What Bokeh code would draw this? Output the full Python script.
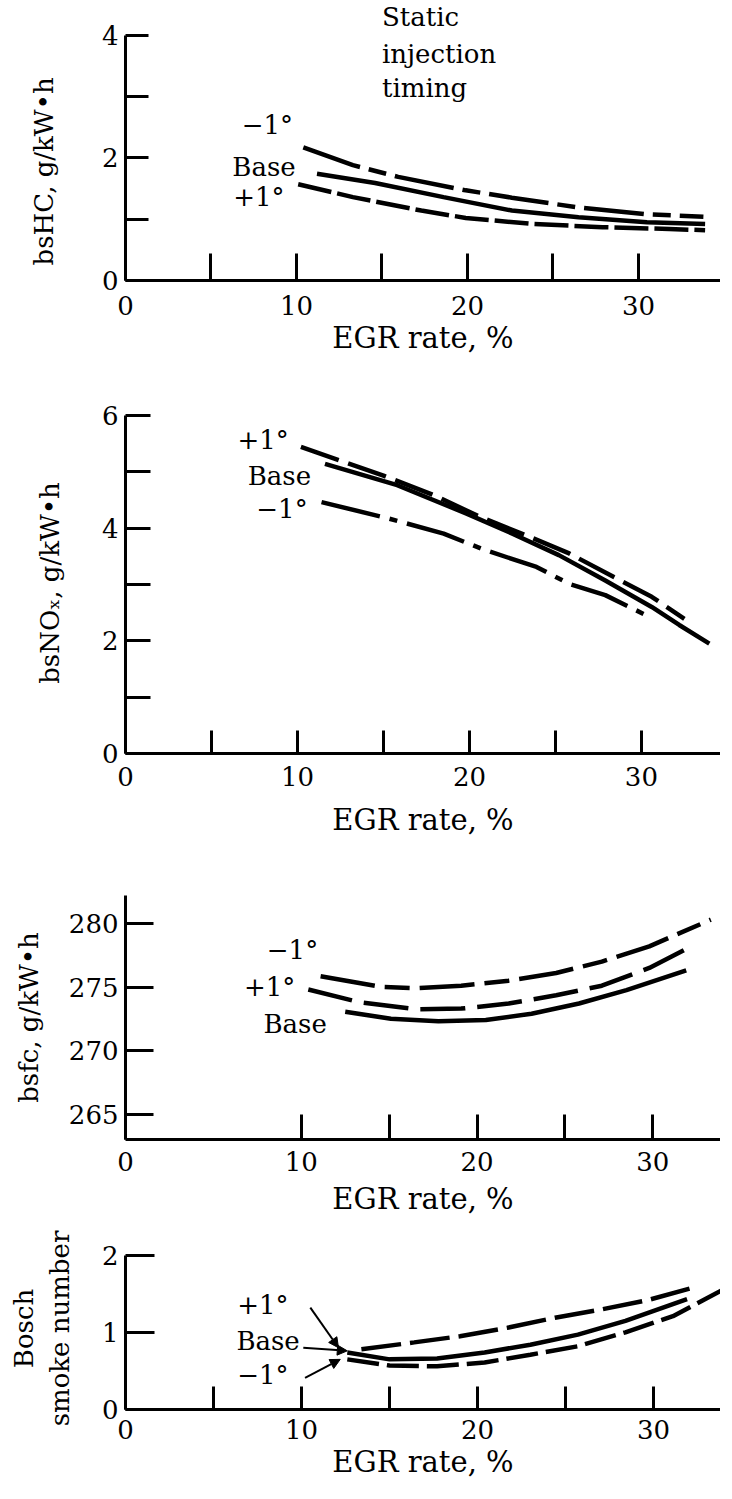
from bokeh.plotting import figure
from bokeh.layouts import column
from bokeh.models import FixedTicker, Label, Arrow, NormalHead, Range1d
from bokeh.core.properties import value
from bokeh.embed import file_html
from bokeh.resources import INLINE

# ---------------- data ----------------
# Panel 1: bsHC, g/kW.h
hc_x_m1 = [10.4, 13.3, 15.95, 19.9, 22.6, 26.5, 30.5, 33.8]
hc_y_m1 = [2.17, 1.88, 1.69, 1.47, 1.35, 1.19, 1.08, 1.04]
hc_x_base = [11.2, 14.6, 18.6, 22.6, 26.5, 30.5, 33.9]
hc_y_base = [1.74, 1.59, 1.36, 1.14, 1.03, 0.95, 0.92]
hc_x_p1 = [10.1, 13.3, 17.3, 19.9, 23.9, 27.9, 31.8, 33.9]
hc_y_p1 = [1.57, 1.36, 1.14, 1.02, 0.92, 0.87, 0.84, 0.82]

# Panel 2: bsNOx, g/kW.h
nox_x_p1 = [10.2, 15.0, 17.96, 20.6, 23.3, 25.8, 28.4, 30.6, 32.5]
nox_y_p1 = [5.44, 4.93, 4.58, 4.20, 3.87, 3.55, 3.13, 2.78, 2.39]
nox_x_base = [11.6, 15.8, 19.8, 22.5, 25.2, 27.9, 30.6, 32.2, 33.95]
nox_y_base = [5.14, 4.76, 4.26, 3.90, 3.52, 3.07, 2.60, 2.28, 1.95]
nox_x_m1 = [11.4, 15.3, 18.5, 20.9, 23.9, 25.8, 27.9, 30.3]
nox_y_m1 = [4.46, 4.17, 3.90, 3.61, 3.31, 3.01, 2.81, 2.45]

# Panel 3: bsfc, g/kW.h
fc_x_m1 = [11.1, 14.6, 16.5, 19.1, 21.8, 24.5, 27.1, 29.8, 33.3]
fc_y_m1 = [275.85, 275.0, 274.9, 275.1, 275.5, 276.1, 277.0, 278.2, 280.3]
fc_x_p1 = [10.4, 13.3, 16.5, 19.1, 21.8, 24.5, 27.1, 29.8, 31.9]
fc_y_p1 = [274.8, 273.8, 273.25, 273.3, 273.7, 274.35, 275.1, 276.5, 278.0]
fc_x_base = [12.5, 15.1, 17.8, 20.5, 23.1, 25.8, 28.5, 31.9]
fc_y_base = [273.05, 272.5, 272.3, 272.4, 272.9, 273.7, 274.75, 276.3]

# Panel 4: Bosch smoke number
sm_x_p1 = [13.4, 16.4, 19.0, 21.7, 24.4, 27.1, 29.7, 32.1]
sm_y_p1 = [0.78, 0.87, 0.95, 1.06, 1.19, 1.30, 1.42, 1.57]
sm_x_base = [12.6, 15.0, 17.7, 20.4, 23.0, 25.7, 28.4, 31.9]
sm_y_base = [0.74, 0.65, 0.66, 0.74, 0.84, 0.97, 1.15, 1.43]
sm_x_m1 = [12.6, 15.0, 17.7, 20.4, 23.0, 25.7, 28.4, 31.1, 34.0]
sm_y_m1 = [0.65, 0.57, 0.56, 0.61, 0.71, 0.82, 1.00, 1.21, 1.56]

x_major = [0, 10, 20, 30]
x_tick_labels = ["0", "10", "20", "30"]
x_title = "EGR rate, %"
note_lines = ["Static", "injection", "timing"]

SERIF = "DejaVu Serif"
FS = "26px"
FS_XT = "29px"
W = 720
PAD = "\u00a0" * 7   # shifts the rotated bsHC title down to where it sits in the original


def make_fig(height, left, top, bottom, xend, yrange, ybounds, ymaj, ymin,
             xmin, ylabel, tick_len_y, tick_len_x, lab_standoff, ylab_standoff,
             xlab_standoff):
    p = figure(width=W, height=height, output_backend="svg", toolbar_location=None,
               x_range=Range1d(0, xend), y_range=Range1d(*yrange),
               min_border_left=left, min_border_right=0, min_border_top=top,
               min_border_bottom=bottom)
    p.xgrid.visible = False
    p.ygrid.visible = False
    p.outline_line_color = None
    p.background_fill_color = "white"
    p.border_fill_color = "white"
    for ax, ln in ((p.xaxis[0], tick_len_x), (p.yaxis[0], tick_len_y)):
        ax.axis_line_width = 3
        ax.axis_line_color = "black"
        ax.major_tick_in = ln
        ax.major_tick_out = 0
        ax.minor_tick_in = ln
        ax.minor_tick_out = 0
        ax.major_tick_line_width = 3
        ax.minor_tick_line_width = 3
        ax.major_tick_line_color = "black"
        ax.minor_tick_line_color = "black"
        ax.major_label_text_font = SERIF
        ax.major_label_text_font_size = FS
        ax.major_label_text_color = "black"
        ax.axis_label_text_font = SERIF
        ax.axis_label_text_font_size = FS
        ax.axis_label_text_font_style = "normal"
        ax.axis_label_text_color = "black"
    p.xaxis[0].axis_label_text_font_size = FS_XT
    p.xaxis[0].ticker = FixedTicker(ticks=x_major, minor_ticks=xmin)
    p.xaxis[0].major_label_overrides = {t: s for t, s in zip(x_major, x_tick_labels)}
    p.xaxis[0].axis_label = x_title
    p.xaxis[0].major_label_standoff = lab_standoff
    p.xaxis[0].axis_label_standoff = xlab_standoff
    p.yaxis[0].ticker = FixedTicker(ticks=ymaj, minor_ticks=ymin)
    p.yaxis[0].axis_label = ylabel
    p.yaxis[0].major_label_standoff = 7
    p.yaxis[0].axis_label_standoff = ylab_standoff
    if ybounds is not None:
        p.yaxis[0].bounds = ybounds
    return p


def lab(p, x, y, text, align="center"):
    p.add_layout(Label(x=x, y=y, text=text, text_font=SERIF, text_font_size=FS,
                       text_align=align, text_baseline="middle", text_color="black"))


LW = 4.5

# ---- Panel 1 ----
p1 = make_fig(360, 108, 4, 80, 34.8, (0, 4.5), (0, 4), [0, 2, 4], [1, 3],
              [5, 15, 25, 35], "bsHC, g/kW\u2022h" + PAD, 23, 27, 15, 40, 3)
p1.line(hc_x_m1, hc_y_m1, line_width=LW, color="black", line_dash="60 9 18 9")
p1.line(hc_x_base, hc_y_base, line_width=LW, color="black")
p1.line(hc_x_p1, hc_y_p1, line_width=LW, color="black", line_dash="34 6")
lab(p1, 8.3, 2.54, "\u22121\u00b0")
lab(p1, 8.1, 1.85, "Base")
lab(p1, 7.8, 1.36, "+1\u00b0")
p1.text(x=[15.0, 15.0, 15.0], y=[4.29, 3.69, 3.14], text=note_lines,
        text_font=value(SERIF), text_font_size=FS, text_align="left",
        text_baseline="middle", text_color="black")

# ---- Panel 2 ----
p2 = make_fig(482, 116, 52, 89, 34.6, (0, 6.05), (0, 6), [0, 2, 4, 6], [1, 3, 5],
              [5, 15, 25], "bsNO\u2093, g/kW\u2022h", 25, 23, 13, 34, 14)
p2.line(nox_x_p1, nox_y_p1, line_width=LW, color="black", line_dash="40 10")
p2.line(nox_x_base, nox_y_base, line_width=LW, color="black")
p2.line(nox_x_m1, nox_y_m1, line_width=LW, color="black", line_dash="60 10 8 10")
lab(p2, 8.0, 5.56, "+1\u00b0")
lab(p2, 8.95, 4.93, "Base")
lab(p2, 9.1, 4.34, "\u22121\u00b0")

# ---- Panel 3 ----
p3 = make_fig(379, 122, 53, 82, 33.85, (263, 282.2), None, [265, 270, 275, 280], [],
              [15, 25], "bsfc, g/kW\u2022h", 28, 25, 12, 22, 8)
p3.line(fc_x_m1, fc_y_m1, line_width=LW, color="black", line_dash="55 10 25 10")
p3.line(fc_x_p1, fc_y_p1, line_width=LW, color="black", line_dash="45 12")
p3.line(fc_x_base, fc_y_base, line_width=LW, color="black")
lab(p3, 9.5, 277.9, "\u22121\u00b0")
lab(p3, 8.2, 275.0, "+1\u00b0")
lab(p3, 9.65, 272.1, "Base")

# ---- Panel 4 ----
p4 = make_fig(262, 125, 26, 74, 33.8, (0, 2.1), (0, 2), [0, 1, 2], [],
              [5, 15, 25], "Bosch\nsmoke number", 29, 23, 10, 24, 3)
p4.line(sm_x_p1, sm_y_p1, line_width=LW, color="black", line_dash="40 9")
p4.line(sm_x_base, sm_y_base, line_width=LW, color="black")
p4.line(sm_x_m1, sm_y_m1, line_width=LW, color="black", line_dash="32 8")
lab(p4, 7.8, 1.36, "+1\u00b0")
lab(p4, 8.1, 0.89, "Base")
lab(p4, 7.8, 0.45, "\u22121\u00b0")
for (xs, ys, xe, ye) in ((10.5, 1.32, 12.1, 0.80), (10.1, 0.80, 12.6, 0.76),
                         (10.2, 0.41, 12.2, 0.65)):
    p4.add_layout(Arrow(end=NormalHead(size=10, fill_color="black", line_color="black"),
                        x_start=xs, y_start=ys, x_end=xe, y_end=ye,
                        line_width=2, line_color="black"))

layout = column(p1, p2, p3, p4, spacing=0)
open("out.html", "w").write(file_html(layout, INLINE))
